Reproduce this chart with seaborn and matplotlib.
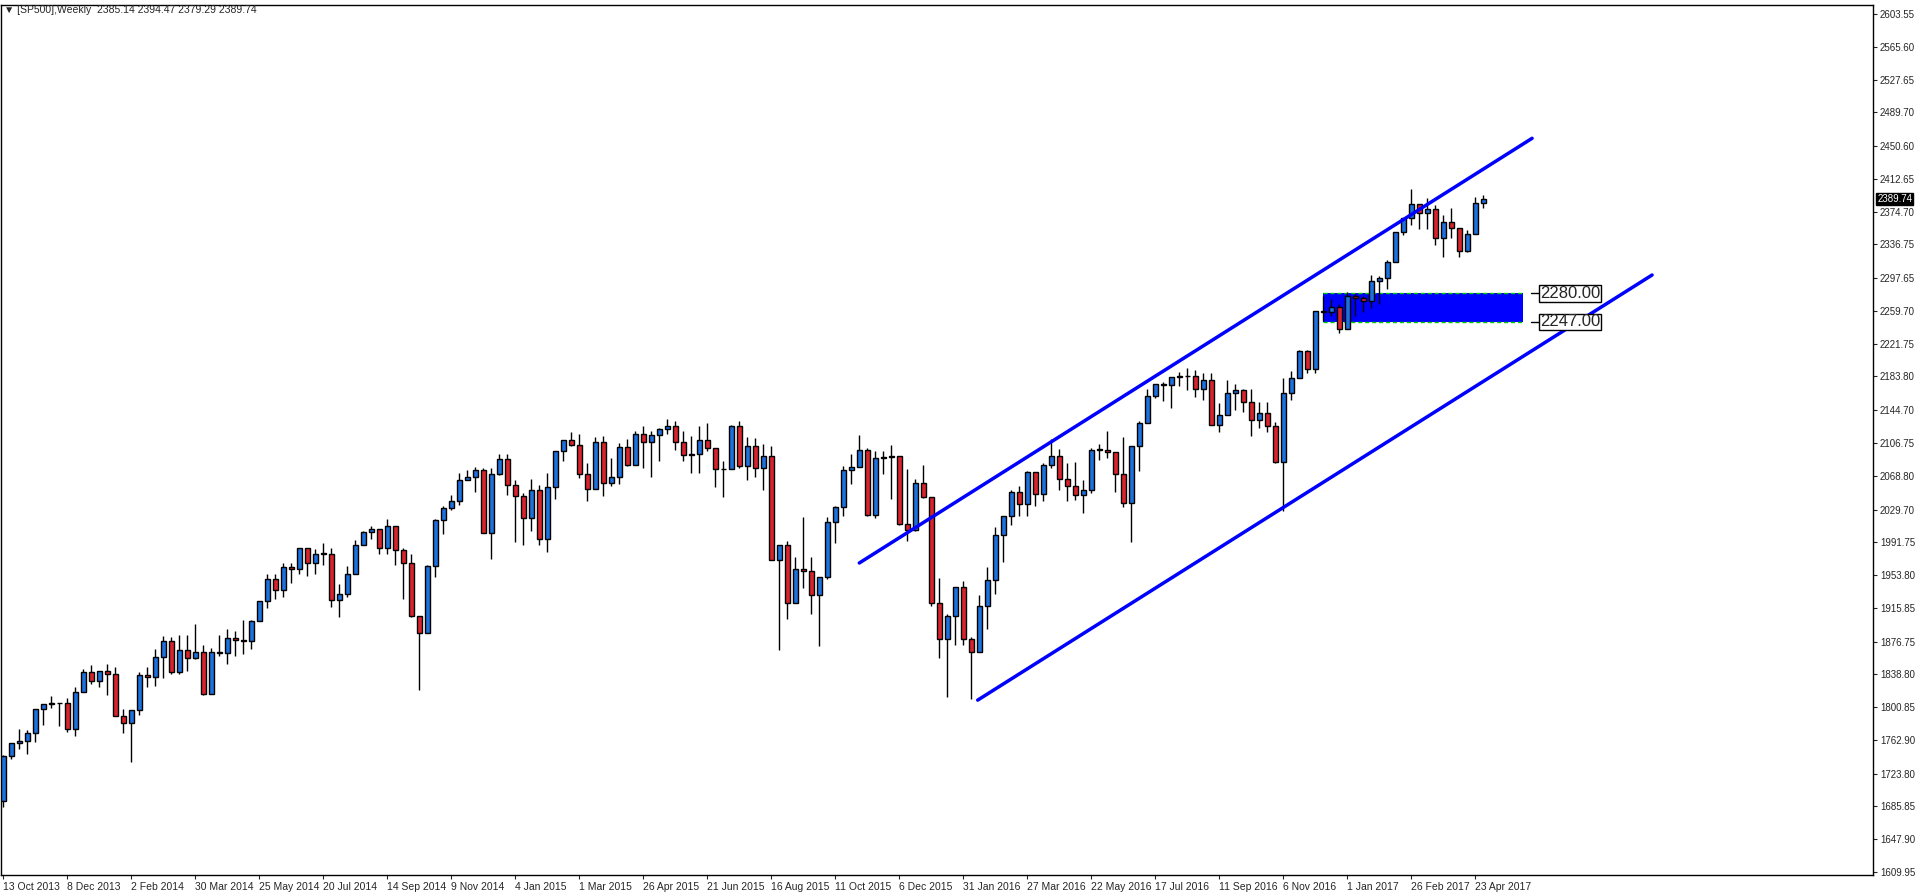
import numpy as np
import pandas as pd
import matplotlib
matplotlib.use("Agg")
import matplotlib.pyplot as plt
import seaborn as sns

sns.set_style("white")
plt.rcParams['font.family'] = ['Liberation Sans', 'DejaVu Sans']

closes = [1744.5,1759.8,1761.6,1770.6,1798.2,1804.8,1805.8,1805.1,1775.3,1818.3,1841.4,1831.4,1842.4,1838.7,1790.3,1782.6,1797.0,1838.6,1836.3,1859.5,
1878.0,1841.1,1866.5,1857.6,1865.1,1815.7,1864.9,1863.4,1881.1,1878.5,1877.9,1900.5,1923.6,1949.4,1936.2,1962.9,1961.0,1985.4,1967.6,1978.2,
1978.3,1925.2,1931.6,1955.1,1988.4,2003.4,2007.7,1985.5,2010.4,1982.9,1967.9,1906.1,1886.8,1964.6,2018.1,2031.9,2039.8,2063.5,2067.6,2075.4,
2002.3,2070.7,2088.8,2058.2,2044.8,2019.4,2051.8,1995.0,2055.5,2097.0,2110.3,2104.5,2071.3,2053.4,2108.1,2061.0,2067.0,2102.1,2081.2,2117.7,
2108.3,2116.1,2122.7,2126.1,2107.4,2092.8,2094.1,2110.0,2101.5,2076.8,2076.6,2126.6,2079.7,2103.8,2077.6,2091.5,1970.9,1988.9,1921.2,1961.1,
1958.0,1931.3,1951.4,2014.9,2033.1,2075.2,2079.4,2099.2,2023.0,2089.2,2090.1,2091.7,2012.4,2005.6,2061.0,2043.9,1922.0,1880.3,1906.9,1940.2,
1880.1,1864.8,1917.8,1948.1,2000.0,2022.2,2049.6,2035.9,2072.8,2047.6,2080.7,2091.6,2065.3,2057.1,2046.6,2052.3,2099.1,2099.1,2096.1,2071.2,
2037.4,2103.0,2129.9,2161.7,2175.0,2173.6,2182.9,2184.05,2183.9,2169.0,2180.0,2127.8,2139.2,2164.7,2168.3,2153.7,2133.0,2141.2,2126.4,2085.2,
2164.45,2181.9,2213.4,2191.95,2259.5,2258.1,2263.8,2238.8,2277.0,2274.6,2271.3,2294.7,2297.4,2316.1,2351.2,2367.3,2383.1,2372.6,2378.3,2344.0,
2362.7,2355.5,2329.0,2348.7,2384.2,2389.74]
highs = [1745.3,1759.8,1775.2,1774.5,1798.2,1804.8,1813.6,1805.8,1811.5,1823.8,1844.9,1849.4,1843.2,1850.8,1846.9,1798.8,1798.0,1841.7,1846.9,1867.9,
1883.6,1882.4,1884.0,1884.0,1897.3,1872.5,1869.6,1884.9,1891.3,1889.1,1902.2,1901.3,1924.0,1955.6,1955.5,1968.2,1968.3,1985.6,1979.9,1983.9,
1991.4,1984.6,1942.9,1964.0,1994.8,2005.0,2011.2,2007.7,2019.3,2009.1,1985.2,1977.8,1898.7,1965.3,2018.2,2034.3,2046.2,2071.5,2075.8,2079.5,
2077.3,2077.8,2093.6,2093.6,2064.4,2049.3,2064.6,2057.6,2072.4,2097.0,2110.6,2119.6,2117.5,2083.5,2113.9,2114.9,2089.8,2107.0,2111.9,2120.9,
2125.9,2120.9,2123.9,2134.7,2132.8,2121.0,2115.4,2126.6,2129.9,2085.7,2085.7,2128.0,2132.8,2114.2,2112.7,2105.4,2102.7,1988.9,1993.5,1975.0,
2020.9,1974.8,1951.4,2020.9,2033.5,2079.7,2094.3,2116.5,2100.7,2097.1,2097.1,2104.3,2090.4,2076.7,2064.7,2081.6,2038.2,1950.3,1908.9,1940.2,
1947.2,1881.6,1930.7,1962.96,2009.1,2022.4,2052.4,2056.6,2074.0,2069.4,2083.2,2111.0,2099.9,2083.4,2084.9,2064.2,2100.9,2106.0,2120.6,2096.1,
2113.3,2103.0,2131.7,2169.05,2175.6,2177.1,2182.9,2188.5,2193.8,2191.1,2187.9,2187.9,2152.9,2179.99,2175.3,2169.6,2169.6,2154.8,2154.8,2131.2,
2182.3,2189.9,2214.1,2214.1,2259.8,2277.5,2273.0,2268.0,2282.1,2279.3,2276.96,2300.99,2300.1,2319.2,2351.3,2367.3,2401.0,2383.1,2390.0,2382.4,
2370.3,2378.4,2356.2,2353.8,2391.4,2394.47]
lows = [1685.0,1740.5,1752.7,1746.2,1760.6,1780.0,1800.0,1779.1,1772.0,1767.99,1818.6,1827.7,1823.7,1815.5,1790.3,1770.5,1737.9,1791.8,1824.6,1825.9,
1834.4,1839.5,1839.7,1842.3,1856.7,1814.4,1820.7,1859.8,1850.6,1859.8,1862.4,1868.1,1901.3,1915.98,1925.8,1927.9,1944.7,1954.8,1952.9,1955.6,
1965.8,1916.4,1904.8,1928.9,1958.9,1988.3,1995.8,1978.5,1978.6,1965.99,1926.0,1905.0,1820.7,1886.8,1951.4,2001.0,2028.9,2034.5,2064.8,2049.6,
2002.3,1972.6,2069.7,2046.0,1992.4,1988.1,2004.5,1989.2,1980.9,2041.9,2085.4,2103.0,2066.4,2039.7,2061.0,2045.5,2056.6,2059.6,2079.7,2081.4,
2077.4,2067.9,2085.7,2116.9,2099.1,2085.7,2072.1,2072.1,2097.4,2056.3,2044.0,2080.0,2077.7,2063.5,2067.9,2052.1,1970.9,1867.0,1903.1,1937.9,
1938.4,1908.8,1871.9,1949.3,1990.7,2022.3,2058.8,2080.0,2022.0,2019.4,2070.3,2042.4,2012.3,1993.3,2005.0,2043.6,1918.5,1857.8,1812.3,1872.7,
1872.7,1810.1,1871.4,1891.0,1931.8,1969.3,2011.8,2022.5,2022.5,2033.8,2039.7,2077.5,2052.3,2039.5,2041.0,2025.9,2049.3,2087.6,2089.6,2050.4,
2032.6,1991.7,2074.0,2131.7,2159.0,2155.8,2147.6,2172.9,2168.5,2159.5,2157.0,2127.8,2119.1,2139.2,2145.0,2142.6,2114.7,2124.4,2119.4,2083.8,
2028.5,2156.0,2183.0,2187.4,2187.9,2248.4,2253.6,2233.6,2245.1,2254.3,2258.4,2262.6,2267.2,2285.4,2321.4,2348.0,2358.9,2354.5,2354.3,2335.7,
2322.3,2344.7,2322.3,2328.1,2369.3,2379.29]
first_open = 1692.0
last_open = 2385.14
opens = [first_open] + closes[:-2] + [last_open]

week_labels = ["13 Oct 2013","8 Dec 2013","2 Feb 2014","30 Mar 2014","25 May 2014","20 Jul 2014","14 Sep 2014","9 Nov 2014",
"4 Jan 2015","1 Mar 2015","26 Apr 2015","21 Jun 2015","16 Aug 2015","11 Oct 2015","6 Dec 2015","31 Jan 2016",
"27 Mar 2016","22 May 2016","17 Jul 2016","11 Sep 2016","6 Nov 2016","1 Jan 2017","26 Feb 2017","23 Apr 2017"]
price_ticks = [2603.55,2565.60,2527.65,2489.70,2450.60,2412.65,2374.70,2336.75,2297.65,2259.70,2221.75,2183.80,2144.70,
2106.75,2068.80,2029.70,1991.75,1953.80,1915.85,1876.75,1838.80,1800.85,1762.90,1723.80,1685.85,1647.90,1609.95]

upper_x = [107.0, 191.1]; upper_y = [1967.8, 2459.6]
lower_x = [121.8, 206.1]; lower_y = [1809.0, 2301.3]
zone_x = [165.0, 189.9]; zone_hi = 2280.0; zone_lo = 2247.0

df = pd.DataFrame({"o": opens, "h": highs, "l": lows, "c": closes})
df["i"] = np.arange(len(df))

W, H = 1916, 896
fig = plt.figure(figsize=(W/100, H/100), dpi=100)
ax = fig.add_axes([1/W, (896-875)/H, 1872/W, 870/H])

ppx = 0.8635
ax.set_ylim(1609.95 - 3/ppx, 2603.55 + 9/ppx)
ax.set_xlim((1 - 3.3)/8, (1873 - 3.3)/8)

up = df.c >= df.o
ax.vlines(df.i, df.l, df.h, color="black", lw=1, zorder=2)
bw = 0.6
body_h = (df.c - df.o).abs()
body_h = body_h.where(body_h > 0.6, 0.6)
ax.bar(df.i[up], body_h[up], bottom=np.minimum(df.o, df.c)[up], width=bw, color="#1f6fdc", edgecolor="black", lw=1, zorder=3)
ax.bar(df.i[~up], body_h[~up], bottom=np.minimum(df.o, df.c)[~up], width=bw, color="#d9232e", edgecolor="black", lw=1, zorder=3)

sns.lineplot(x=upper_x, y=upper_y, ax=ax, color="#0000ff", lw=2.5, zorder=4)
sns.lineplot(x=lower_x, y=lower_y, ax=ax, color="#0000ff", lw=2.5, zorder=4)

ax.fill_between(zone_x, zone_lo, zone_hi, color="#0000ff", zorder=1, lw=0)
ax.hlines([zone_hi, zone_lo], zone_x[0], zone_x[1], colors="#00cc00", linestyles=(0, (3, 2)), lw=1, zorder=1.5)
lx = zone_x[1] + 2.2
for v in [zone_hi, zone_lo]:
    ax.plot([lx - 1.2, lx], [v, v], color="black", lw=1, zorder=5)
    ax.text(lx, v, f"{v:.2f}", fontsize=12, va="center", ha="left", zorder=6,
            bbox=dict(boxstyle="square,pad=0.05", fc="white", ec="black", lw=1))

ax.yaxis.tick_right()
ax.set_yticks(price_ticks)
ax.set_yticklabels([f"{t:.2f}" for t in price_ticks], fontsize=7)
ax.tick_params(axis="y", direction="out", length=3, pad=2, right=True, left=False)
ax.set_xticks(np.arange(len(week_labels)) * 8)
ax.set_xticklabels(week_labels, fontsize=7.5, ha="left")
ax.tick_params(axis="x", direction="out", length=3, pad=2, bottom=True)
for s in ax.spines.values():
    s.set_color("black"); s.set_linewidth(1)
ax.grid(False)

ax.annotate(f"{closes[-1]:.2f}", xy=(1, closes[-1]), xycoords=("axes fraction", "data"),
            xytext=(3, 0), textcoords="offset points", fontsize=7, color="white", va="center", ha="left",
            bbox=dict(boxstyle="square,pad=0.1", fc="black", ec="black"))

header = "\u25bc [SP500],Weekly  " + " ".join(f"{v:.2f}" for v in [opens[-1], highs[-1], lows[-1], closes[-1]])
fig.text(4/W, 1 - 10/H, header, fontsize=7.5, va="center", ha="left")

fig.savefig("out.png", dpi=100)
